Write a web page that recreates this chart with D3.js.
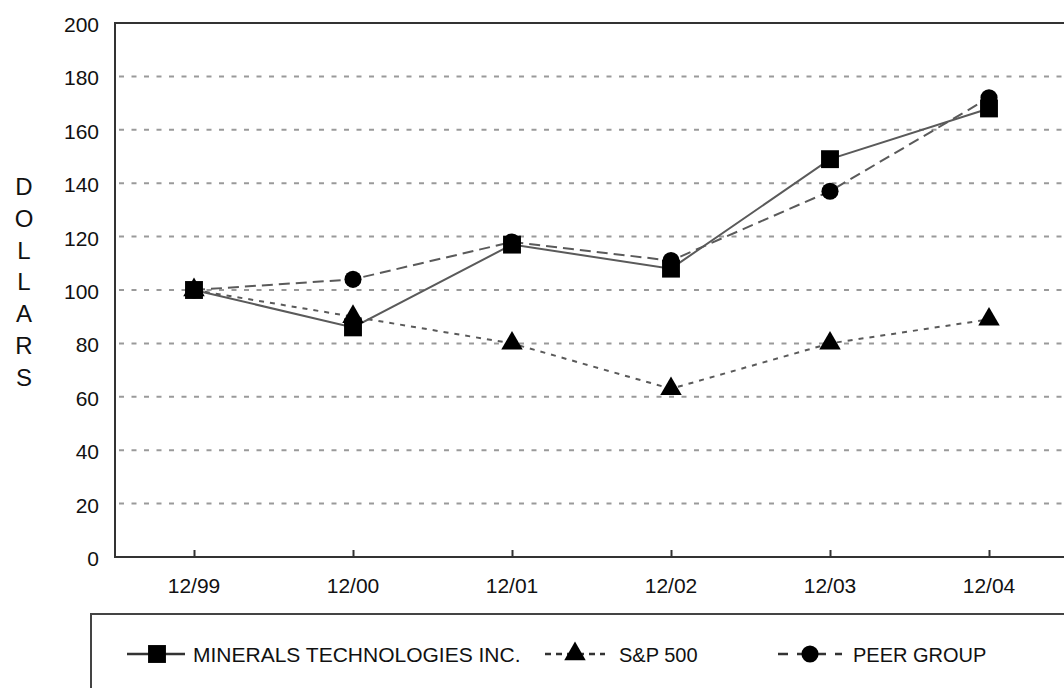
<!DOCTYPE html>
<html>
<head>
<meta charset="utf-8">
<script src="https://cdn.jsdelivr.net/npm/d3@7"></script>
<style>
  body { margin: 0; background: #fff; }
  svg { font-family: "Liberation Sans", Arial, sans-serif; }
</style>
</head>
<body>
<svg id="chart" width="1064" height="688"></svg>
<script>
const periods = ["12/99", "12/00", "12/01", "12/02", "12/03", "12/04"];
const minerals = [100, 86, 117, 108, 149, 168];
const sp500 = [100, 90, 80, 63, 80, 89];
const peers = [100, 104, 118, 111, 137, 172];
const yTicks = [0, 20, 40, 60, 80, 100, 120, 140, 160, 180, 200];
const yLetters = ["D", "O", "L", "L", "A", "R", "S"];

const series = [
    { name: "MINERALS TECHNOLOGIES INC.", values: minerals, dash: null, symbol: d3.symbolSquare, size: 320 },
    { name: "S&P 500", values: sp500, dash: "5,6", symbol: d3.symbolTriangle, size: 200 },
    { name: "PEER GROUP", values: peers, dash: "11,6", symbol: d3.symbolCircle, size: 230 }
];

const svg = d3.select("#chart");
const mLeft = 115, mTop = 23, mBottom = 557, mRight = 1068;

const x = d3.scalePoint().domain(periods).range([194, 989]);
const y = d3.scaleLinear().domain([0, 200]).range([mBottom, mTop]);

// grid
svg.append("g")
    .selectAll("line")
    .data(yTicks.filter(d => d > 0 && d < 200))
    .join("line")
    .attr("x1", mLeft + 4).attr("x2", mRight)
    .attr("y1", d => y(d)).attr("y2", d => y(d))
    .attr("stroke", "#9a9a9a")
    .attr("stroke-width", 2)
    .attr("stroke-dasharray", "5,7.5");

// frame
svg.append("path")
    .attr("d", `M${mRight},${mTop}H${mLeft}V${mBottom}H${mRight}`)
    .attr("fill", "none")
    .attr("stroke", "#333")
    .attr("stroke-width", 2);

// y axis labels
const yAxis = d3.axisLeft(y).tickValues(yTicks).tickSize(0).tickPadding(16);
svg.append("g")
    .attr("transform", `translate(${mLeft},0)`)
    .call(yAxis)
    .call(g => g.select(".domain").remove())
    .call(g => g.selectAll("text").attr("font-size", 21).attr("fill", "#111").attr("dy", "0.4em")
        .attr("font-family", "Liberation Sans, Arial, sans-serif"));

// x axis
const xAxis = d3.axisTop(x).tickSize(7).tickFormat("");
svg.append("g")
    .attr("transform", `translate(0,${mBottom})`)
    .call(xAxis)
    .call(g => g.select(".domain").remove())
    .call(g => g.selectAll("line").attr("stroke", "#333").attr("stroke-width", 2));

svg.append("g")
    .selectAll("text")
    .data(periods)
    .join("text")
    .attr("x", d => x(d))
    .attr("y", 593)
    .attr("text-anchor", "middle")
    .attr("font-size", 21)
    .attr("fill", "#111")
    .text(d => d);

// vertical title
svg.append("g")
    .selectAll("text")
    .data(yLetters)
    .join("text")
    .attr("x", 24)
    .attr("y", (d, i) => 195 + i * 31.8)
    .attr("text-anchor", "middle")
    .attr("font-size", 24)
    .attr("fill", "#111")
    .text(d => d);

// lines
const line = d3.line()
    .x((d, i) => x(periods[i]))
    .y(d => y(d));

const plot = svg.append("g");
series.forEach(s => {
    plot.append("path")
        .datum(s.values)
        .attr("d", line)
        .attr("fill", "none")
        .attr("stroke", "#5a5a5a")
        .attr("stroke-width", 2)
        .attr("stroke-dasharray", s.dash);
});
series.forEach(s => {
    plot.append("g")
        .selectAll("path")
        .data(s.values)
        .join("path")
        .attr("transform", (d, i) => `translate(${x(periods[i])},${y(d)})`)
        .attr("d", d3.symbol().type(s.symbol).size(s.size))
        .attr("fill", "#000");
});

// legend box
svg.append("path")
    .attr("d", "M91,700V614H1070")
    .attr("fill", "none")
    .attr("stroke", "#444")
    .attr("stroke-width", 2);

const legendPos = [
    { x1: 127, x2: 185, cx: 157, tx: 193, fs: 21, dash: null },
    { x1: 545, x2: 605, cx: 575, tx: 619, fs: 20, dash: "6,5" },
    { x1: 778, x2: 842, cx: 810, tx: 853, fs: 20, dash: "10,9" }
];
const ly = 654;
const legend = svg.append("g");
series.forEach((s, i) => {
    const p = legendPos[i];
    legend.append("line")
        .attr("x1", p.x1).attr("x2", p.x2)
        .attr("y1", ly).attr("y2", ly)
        .attr("stroke", "#333")
        .attr("stroke-width", 2.5)
        .attr("stroke-dasharray", p.dash);
    legend.append("path")
        .attr("transform", `translate(${p.cx},${ly})`)
        .attr("d", d3.symbol().type(s.symbol).size(s.size))
        .attr("fill", "#000");
    legend.append("text")
        .attr("x", p.tx)
        .attr("y", ly + 8)
        .attr("font-size", p.fs)
        .attr("fill", "#111")
        .text(s.name);
});
</script>
</body>
</html>
